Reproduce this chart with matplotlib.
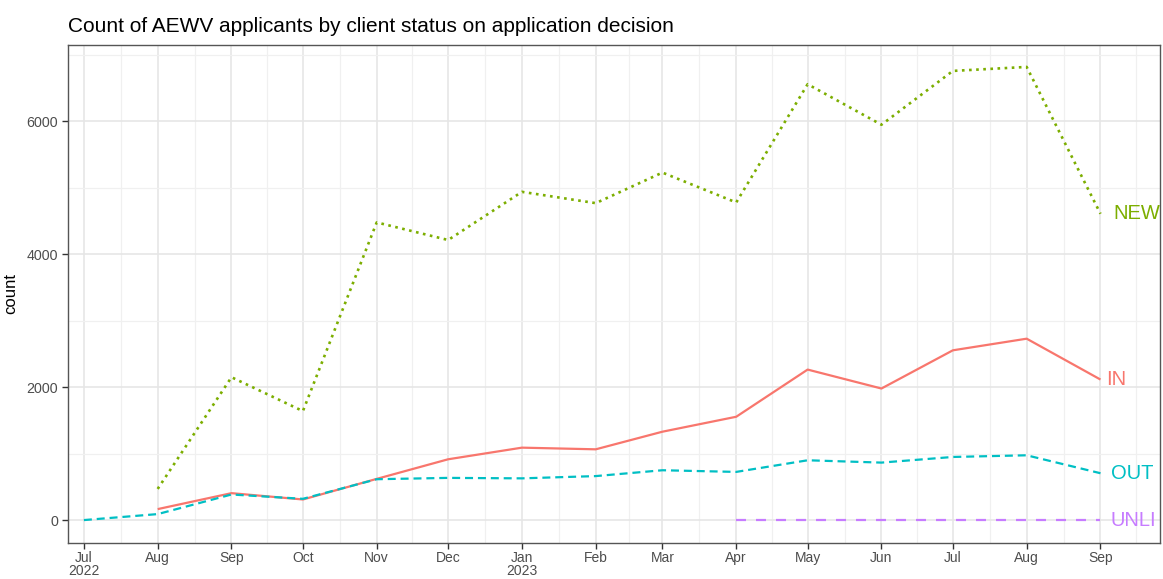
import numpy as np
import pandas as pd
import matplotlib
matplotlib.use('Agg')
import matplotlib.pyplot as plt
import matplotlib.dates as mdates

plt.rcParams['font.family'] = ['Liberation Sans', 'DejaVu Sans']

# data
months = pd.date_range('2022-07-01', '2023-09-01', freq='MS')
new_vals = [469, 2150, 1640, 4480, 4215, 4940, 4770, 5230, 4780, 6560, 5950, 6760, 6820, 4610]   # from Aug 2022
in_vals = [165, 405, 310, 620, 915, 1090, 1065, 1330, 1555, 2265, 1980, 2555, 2730, 2115]        # from Aug 2022
out_vals = [0, 90, 385, 320, 615, 635, 628, 662, 750, 725, 900, 865, 950, 975, 705]              # from Jul 2022
unli_vals = [0, 0, 0, 0, 0, 0]                                                                   # from Apr 2023
tick_labels = ['Jul\n2022', 'Aug', 'Sep', 'Oct', 'Nov', 'Dec', 'Jan\n2023',
               'Feb', 'Mar', 'Apr', 'May', 'Jun', 'Jul', 'Aug', 'Sep']

series = [
    ('IN', months[1:], in_vals, '#F8766D', 1.6, None, 5),
    ('NEW', months[1:], new_vals, '#7CAE00', 1.9, (1.0, 1.7), 12),
    ('OUT', months, out_vals, '#00BFC4', 1.6, (3.6, 2.2), 10),
    ('UNLI', months[-6:], unli_vals, '#C77CFF', 1.6, (4.5, 4.5), 10),
]

W, H = 1163, 579
fig = plt.figure(figsize=(W / 100, H / 100), dpi=100)
ax = fig.add_axes([68 / W, (579 - 543) / H, (1160 - 68) / W, (543 - 45) / H])

for name, x, y, col, lw, dashes, off in series:
    line, = ax.plot(x, y, color=col, lw=lw, solid_capstyle='butt')
    if dashes is not None:
        line.set_dashes(dashes)
        line.set_dash_capstyle('butt')
    ax.annotate(name, (x[-1], y[-1]), xytext=(off * 0.75, 0), textcoords='offset points',
                ha='left', va='center', color=col, fontsize=14.5, annotation_clip=False,
                clip_on=True)

# axes styling like ggplot theme_bw
ax.set_xlim(pd.Timestamp('2022-06-24 08:00'), pd.Timestamp('2023-09-26'))
ax.set_ylim(-345, 7150)
ax.set_xticks(months)
ax.set_xticklabels(tick_labels, linespacing=0.95)
minor = [months[i] + (months[i + 1] - months[i]) / 2 for i in range(len(months) - 1)]
minor.append(months[-1] + pd.Timedelta(days=15))
ax.set_xticks(minor, minor=True)
ax.set_yticks([0, 2000, 4000, 6000])
ax.set_yticks([1000, 3000, 5000, 7000], minor=True)

ax.grid(True, which='major', color='#e6e6e6', lw=1.2)
ax.grid(True, which='minor', color='#f0f0f0', lw=0.9)
ax.set_axisbelow(True)
for s in ax.spines.values():
    s.set_color('#555555')
    s.set_linewidth(1.0)
ax.tick_params(which='major', length=4, width=1.0, color='#333333',
               labelcolor='#4d4d4d', labelsize=10.3, pad=3)
ax.tick_params(axis='x', which='major', pad=1.5, labelsize=10)
ax.tick_params(which='minor', length=0)
ax.set_ylabel('count', fontsize=12, labelpad=6)
ax.set_title('Count of AEWV applicants by client status on application decision',
             loc='left', fontsize=15, pad=9)

fig.savefig('out.png', dpi=100)
